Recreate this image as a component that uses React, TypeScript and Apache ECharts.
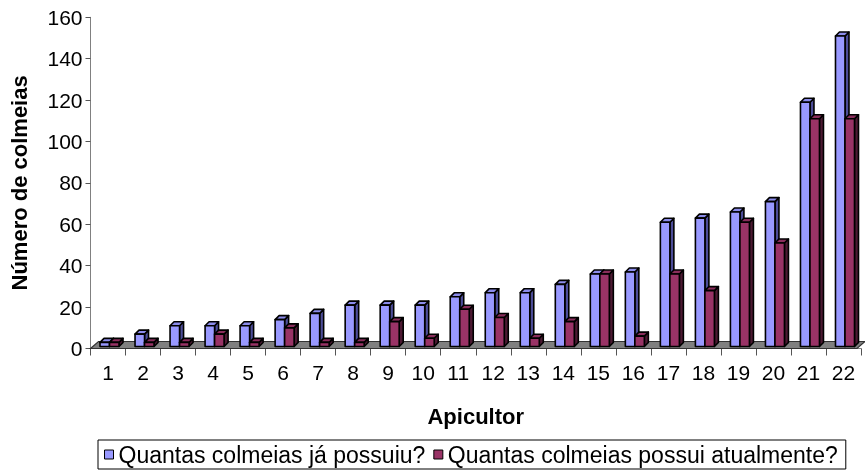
import React, { useEffect, useRef } from "react";
import * as echarts from "echarts";

const apicultores = ["1", "2", "3", "4", "5", "6", "7", "8", "9", "10", "11", "12", "13", "14", "15", "16", "17", "18", "19", "20", "21", "22"];
const jaPossuiu = [2, 6, 10, 10, 10, 13, 16, 20, 20, 20, 24, 26, 26, 30, 35, 36, 60, 62, 65, 70, 118, 150];
const possuiAtual = [2, 2, 2, 6, 2, 9, 2, 2, 12, 4, 18, 14, 4, 12, 35, 5, 35, 27, 60, 50, 110, 110];
const yTicks = { min: 0, max: 160, interval: 20 };

const nameA = "Quantas colmeias já possuiu?";
const nameB = "Quantas colmeias possui atualmente?";

const FONT = "'Liberation Sans', Arial, sans-serif";

const DEPTH_X = 4;
const DEPTH_Y = -4;

function makeBarRenderer(startOff: number, width: number, front: string, top: string, side: string) {
  return (params: any, api: any) => {
    const idx = api.value(0);
    const v = api.value(1);
    const base = api.coord([idx, 0]);
    const topPt = api.coord([idx, v]);
    const x0 = base[0] + startOff;
    const x1 = x0 + width;
    const yb = base[1] - 2;
    const yt = topPt[1] - 2;
    const stroke = { stroke: "#000", lineWidth: 1.6, lineJoin: "round" };
    return {
      type: "group",
      children: [
        {
          type: "polygon",
          shape: { points: [[x1, yb], [x1 + DEPTH_X, yb + DEPTH_Y], [x1 + DEPTH_X, yt + DEPTH_Y], [x1, yt]] },
          style: { fill: side, ...stroke },
        },
        {
          type: "polygon",
          shape: { points: [[x0, yt], [x1, yt], [x1 + DEPTH_X, yt + DEPTH_Y], [x0 + DEPTH_X, yt + DEPTH_Y]] },
          style: { fill: top, ...stroke },
        },
        {
          type: "rect",
          shape: { x: x0, y: yt, width: width, height: yb - yt },
          style: { fill: front, ...stroke },
        },
      ],
    };
  };
}

export default function App() {
  const ref = useRef<HTMLDivElement>(null);
  useEffect(() => {
    if (!ref.current) return;
    const chart = echarts.init(ref.current, undefined, { renderer: "svg" });
    chart.setOption({
      animation: false,
      textStyle: { fontFamily: FONT },
      grid: { left: 90.5, right: 4, top: 17.3, bottom: 126.5, containLabel: false },
      legend: {
        left: 98,
        top: 440,
        padding: [3, 8, 3, 6],
        borderColor: "#000",
        borderWidth: 1,
        itemGap: 8,
        itemWidth: 9,
        itemHeight: 9,
        textStyle: { fontSize: 23, color: "#000", fontFamily: FONT },
        data: [
          { name: nameA, icon: "rect", itemStyle: { color: "#9999FF", borderColor: "#000", borderWidth: 1 } },
          { name: nameB, icon: "rect", itemStyle: { color: "#993366", borderColor: "#000", borderWidth: 1 } },
        ],
      },
      xAxis: {
        type: "category",
        data: apicultores,
        boundaryGap: true,
        name: "Apicultor",
        nameLocation: "middle",
        nameGap: 57,
        nameTextStyle: { fontSize: 22, fontWeight: "bold", color: "#000", fontFamily: FONT },
        axisLine: { show: true, lineStyle: { color: "#808080", width: 1 } },
        axisTick: { show: true, length: 7, lineStyle: { color: "#555" } },
        axisLabel: { fontSize: 21, color: "#000", margin: 13, interval: 0, fontFamily: FONT },
        splitLine: { show: false },
      },
      yAxis: {
        type: "value",
        min: yTicks.min,
        max: yTicks.max,
        interval: yTicks.interval,
        name: "Número de colmeias",
        nameLocation: "middle",
        nameGap: 60,
        nameTextStyle: { fontSize: 22, fontWeight: "bold", color: "#000", fontFamily: FONT },
        axisLine: { show: true, lineStyle: { color: "#808080", width: 1 } },
        axisTick: { show: true, length: 5, lineStyle: { color: "#555" } },
        axisLabel: { fontSize: 21, color: "#000", margin: 8, fontFamily: FONT },
        splitLine: { show: false },
      },
      series: [
        {
          name: "floor",
          type: "custom",
          silent: true,
          z: 1,
          data: [[0, 0]],
          encode: { x: 0, y: 1 },
          renderItem: (params: any) => {
            const cs = params.coordSys;
            const yF = cs.y + cs.height;
            const xL = cs.x;
            const xR = cs.x + cs.width;
            return {
              type: "polygon",
              shape: { points: [[xL, yF], [xR - 4, yF], [xR + 4, yF - 7], [xL + 8, yF - 7]] },
              style: { fill: "#808080", stroke: "#333", lineWidth: 1.2 },
            };
          },
        },
        {
          name: nameA,
          type: "custom",
          z: 2,
          data: jaPossuiu.map((v, i) => [i, v]),
          encode: { x: 0, y: 1 },
          itemStyle: { color: "#9999FF" },
          renderItem: makeBarRenderer(-8, 9.5, "#9999FF", "#8C8CEB", "#4D4D99"),
        },
        {
          name: nameB,
          type: "custom",
          z: 3,
          data: possuiAtual.map((v, i) => [i, v]),
          encode: { x: 0, y: 1 },
          itemStyle: { color: "#993366" },
          renderItem: makeBarRenderer(1.5, 9.5, "#993366", "#8A2E5C", "#4D1A33"),
        },
      ],
    });
    return () => chart.dispose();
  }, []);
  return <div ref={ref} style={{ position: "fixed", left: 0, top: 0, width: 865, height: 475 }} />;
}
